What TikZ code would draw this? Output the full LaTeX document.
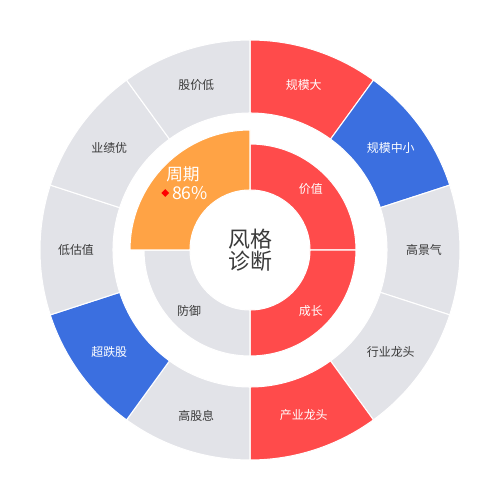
\documentclass[tikz,border=0pt]{standalone}
\usepackage{fontspec}
\setmainfont{Noto Sans CJK SC}
\usetikzlibrary{positioning, shapes.geometric}

\definecolor{hotred}{HTML}{FF4B4B}
\definecolor{coolblue}{HTML}{3B6FE0}
\definecolor{mutegray}{HTML}{E2E3E8}
\definecolor{warmorange}{HTML}{FFA345}
\definecolor{labelgray}{HTML}{3A3A3A}

\begin{document}
\begin{tikzpicture}[
    x=0.02cm, y=0.02cm,
    sector/.style={draw=white, line width=0.6pt},
    smalllabel/.style={font=\fontsize{6.8}{8}\selectfont},
    biglabel/.style={font=\fontsize{9.5}{10}\selectfont, text=white, inner sep=0pt}
  ]
  \useasboundingbox (-250,-250) rectangle (250,250);

  % Outer ring
  \foreach \name/\fillc/\textc [count=\i from 0] in {
      规模大/hotred/white, 规模中小/coolblue/white, 高景气/mutegray/labelgray,
      行业龙头/mutegray/labelgray, 产业龙头/hotred/white, 高股息/mutegray/labelgray,
      超跌股/coolblue/white, 低估值/mutegray/labelgray, 业绩优/mutegray/labelgray,
      股价低/mutegray/labelgray} {
    \pgfmathsetmacro\a{90-36*\i}
    \pgfmathsetmacro\b{\a-36}
    \pgfmathsetmacro\m{\a-18}
    \filldraw[sector, fill=\fillc] (\a:210) arc[start angle=\a, end angle=\b, radius=210]
      -- (\b:137) arc[start angle=\b, end angle=\a, radius=137] -- cycle;
    \node[smalllabel, text=\textc] (out\i) at (\m:174) {\name};
  }

  % Inner ring
  \filldraw[sector, fill=hotred] (90:106) arc[start angle=90, end angle=0, radius=106]
    -- (0:60) arc[start angle=0, end angle=90, radius=60] -- cycle;
  \filldraw[sector, fill=hotred] (0:106) arc[start angle=0, end angle=-90, radius=106]
    -- (-90:60) arc[start angle=-90, end angle=0, radius=60] -- cycle;
  \filldraw[sector, fill=mutegray] (-90:106) arc[start angle=-90, end angle=-180, radius=106]
    -- (180:60) arc[start angle=180, end angle=270, radius=60] -- cycle;
  \filldraw[sector, fill=warmorange] (180:120) arc[start angle=180, end angle=90, radius=120]
    -- (90:60) arc[start angle=90, end angle=180, radius=60] -- cycle;

  % Inner labels
  \node[smalllabel, text=white] (value) at (45:86) {价值};
  \node[smalllabel, text=white] (growth) at (-45:86) {成长};
  \node[smalllabel, text=labelgray] (defense) at (-135:86) {防御};
  \node[biglabel] (cycle) at (-67,76) {周期};
  \node[biglabel, font=\fontsize{10}{10}\selectfont] (pct) at (-60,57) {86\%};
  \node[diamond, fill=red, inner sep=0pt, minimum size=4.6pt, left=1.2pt of pct] (mark) {};

  % Centre title
  \node[align=center, text=labelgray, font=\fontsize{12.5}{12.5}\selectfont] (title) at (0,0) {风格\\诊断};
\end{tikzpicture}
\end{document}
